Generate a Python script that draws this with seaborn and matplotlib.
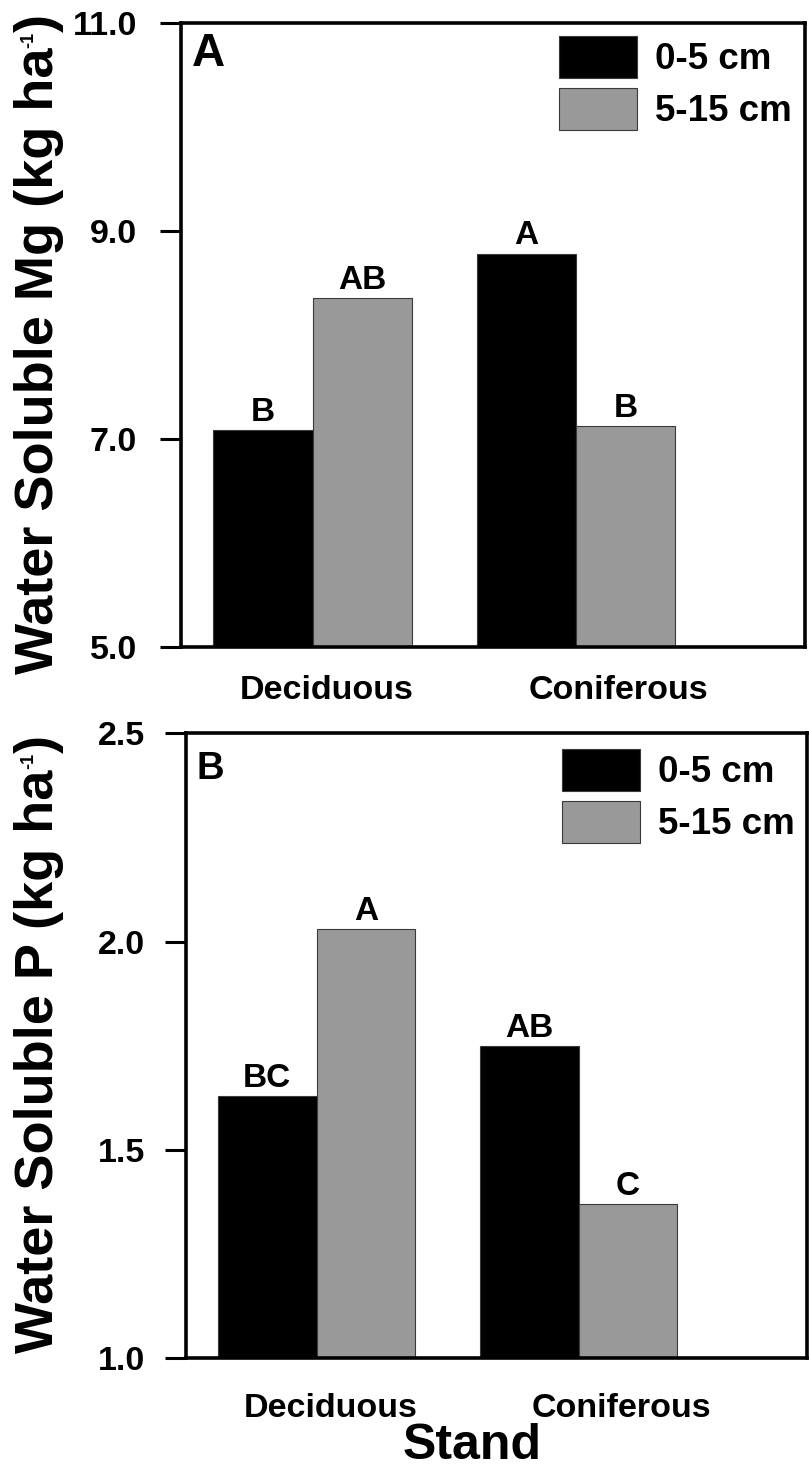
import matplotlib
matplotlib.use("Agg")
import matplotlib.pyplot as plt
from matplotlib.transforms import IdentityTransform
import seaborn as sns
import pandas as pd

# Soil water-soluble nutrients by stand type and sampling depth
stands = ["Deciduous", "Coniferous"]
depths = ["0-5 cm", "5-15 cm"]

mg_0_5 = [7.08, 8.78]
mg_5_15 = [8.35, 7.12]
mg_letters_0_5 = ["B", "A"]
mg_letters_5_15 = ["AB", "B"]

p_0_5 = [1.63, 1.75]
p_5_15 = [2.03, 1.37]
p_letters_0_5 = ["BC", "AB"]
p_letters_5_15 = ["A", "C"]

mg_ticks = [5.0, 7.0, 9.0, 11.0]
p_ticks = [1.0, 1.5, 2.0, 2.5]

sns.set_style("ticks")
plt.rcParams["font.family"] = ["Liberation Sans", "DejaVu Sans"]
plt.rcParams["font.weight"] = "bold"
for key in ("text.color", "axes.labelcolor", "xtick.color", "ytick.color",
            "axes.edgecolor"):
    plt.rcParams[key] = "black"

palette = {"0-5 cm": "#000000", "5-15 cm": "#999999"}

FIG_W, FIG_H, DPI = 809, 1479, 100


def make_frame(v1, v2):
    return pd.DataFrame({
        "Stand": stands * 2,
        "Depth": [depths[0]] * 2 + [depths[1]] * 2,
        "Value": list(v1) + list(v2),
    })


def draw_panel(ax, df, letters, ticks, panel, panel_size, panel_off,
               xpad, ypad, legend_top):
    sns.barplot(data=df, x="Stand", y="Value", hue="Depth", hue_order=depths,
                palette=palette, width=0.754, edgecolor="#3a3a3a",
                linewidth=0.8, saturation=1, ax=ax, legend=True)
    ax.set_ylim(ticks[0], ticks[-1])
    ax.set_xlim(-0.5, 1.87)
    ax.set_yticks(ticks)
    ax.set_yticklabels([f"{t:.1f}" for t in ticks])
    ax.set_xticks([0.055, 1.163])
    ax.set_xticklabels(stands)
    ax.tick_params(axis="y", length=15, width=2.2, direction="out",
                   labelsize=24.5, pad=ypad, color="black",
                   labelcolor="black")
    ax.tick_params(axis="x", length=0, labelsize=24.5, pad=xpad,
                   labelcolor="black")
    for s in ax.spines.values():
        s.set_visible(True)
        s.set_linewidth(2.6)
        s.set_color("black")

    for cont, labs in zip(ax.containers, letters):
        ax.bar_label(cont, labels=labs, padding=1.5, fontsize=24,
                     fontweight="bold", color="black")

    ax.set_ylabel("")
    ax.set_xlabel("")

    handles, labels = ax.get_legend_handles_labels()
    leg = ax.legend(handles, labels, loc="upper left", frameon=False,
                    bbox_to_anchor=(0.606, legend_top), borderpad=0,
                    borderaxespad=0, handlelength=2.11, handleheight=1.377,
                    handletextpad=0.5, labelspacing=0.28, fontsize=26.5)
    for t in leg.get_texts():
        t.set_color("black")
    ax.annotate(panel, xy=(0, 1), xycoords="axes fraction",
                xytext=panel_off, textcoords="offset points",
                ha="left", va="top", fontsize=panel_size, fontweight="bold",
                color="black")


def rotated_label(fig, parts, x_px, y_center_px):
    """Vertical axis title built from pieces; each piece is
    (text, fontsize, raise in pixels above the common baseline)."""
    renderer = fig.canvas.get_renderer()
    items = []
    for s, fs, r in parts:
        t = fig.text(0, 0, s, rotation=90, rotation_mode="anchor",
                     ha="left", va="baseline", fontsize=fs,
                     fontweight="bold", color="black",
                     transform=IdentityTransform())
        items.append((t, r))
    lengths = [t.get_window_extent(renderer).height for t, _ in items]
    y = (FIG_H - y_center_px) - sum(lengths) / 2
    for (t, r), L in zip(items, lengths):
        t.set_position((x_px - r, y))
        y += L


fig = plt.figure(figsize=(FIG_W / DPI, FIG_H / DPI), dpi=DPI)
ax_a = fig.add_axes([0.2237, 0.5627, 0.7713, 0.4220])
ax_b = fig.add_axes([0.2295, 0.0816, 0.7676, 0.4226])

draw_panel(ax_a, make_frame(mg_0_5, mg_5_15),
           [mg_letters_0_5, mg_letters_5_15], mg_ticks,
           "A", 33, (7.5, -6.5), 20, 16.5, 0.979)
draw_panel(ax_b, make_frame(p_0_5, p_5_15),
           [p_letters_0_5, p_letters_5_15], p_ticks,
           "B", 27.5, (8, -12.5), 25, 14.4, 0.975)

ax_b.set_xlabel("Stand", fontsize=36, fontweight="bold", color="black")
ax_b.xaxis.set_label_coords(0.462, -0.1035)

rotated_label(fig, [("Water Soluble Mg (kg ha", 39, 0), ("-1", 13, 20),
                    (")", 39, 0)], 53, 344)
rotated_label(fig, [("Water Soluble P (kg ha", 39, 0), ("-1", 13, 20),
                    (")", 39, 0)], 53, 1044)

fig.savefig("out.png", dpi=DPI)
